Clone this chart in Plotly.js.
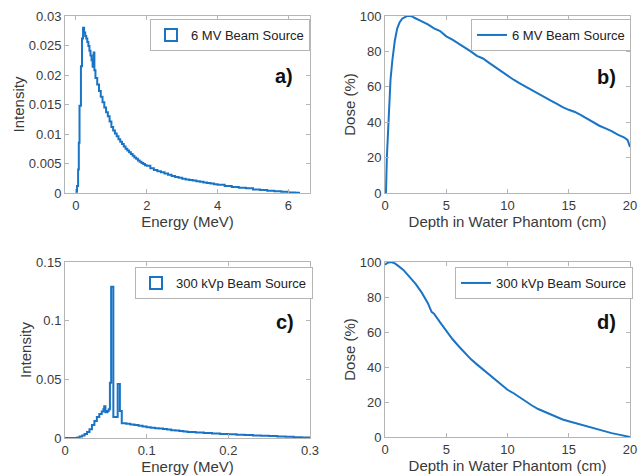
<!DOCTYPE html>
<html>
<head>
<meta charset="utf-8">
<script src="https://cdn.plot.ly/plotly-3.0.1.min.js"></script>
<style>html,body{margin:0;padding:0;background:#fff}#chart{width:640px;height:475px}</style>
</head>
<body>
<div id="chart"></div>
<script>
// Panel a: 6 MV spectrum (bin left edges, intensity)
var mvEnergy = [0,0.03,0.06,0.08,0.10,0.14,0.17,0.20,0.23,0.26,0.29,0.32,0.35,0.38,0.41,0.44,0.47,0.50,0.52,
  0.55,0.60,0.65,0.70,0.75,0.80,0.85,0.90,0.95,1.00,1.05,1.10,1.15,1.20,1.25,1.30,1.35,1.40,1.45,1.50,1.55,1.60,1.65,1.70,1.75,1.80,1.85,1.90,1.95,
  2.0,2.1,2.2,2.3,2.4,2.5,2.6,2.7,2.8,2.9,3.0,3.1,3.2,3.3,3.4,3.5,3.6,3.7,3.8,3.9,4.0,4.2,4.4,4.6,4.8,5.0,5.2,5.4,5.6,5.8,6.0,6.2,6.3];
var mvIntensity = [0.0002,0.0012,0.004,0.0085,0.0148,0.0215,0.0262,0.0280,0.0272,0.0266,0.0262,0.0256,0.0249,0.0241,0.0233,0.0225,0.0214,0.0238,0.0208,
  0.0195,0.0184,0.0173,0.0163,0.0154,0.0145,0.0137,0.0130,0.0121,0.0112,0.0106,0.0101,0.0096,0.0091,0.0087,0.0083,0.0079,0.0075,0.0072,0.0069,0.0066,0.0063,0.0060,0.0058,0.0055,0.0053,0.0051,0.0049,0.0047,
  0.0046,0.0042,0.0039,0.0037,0.0035,0.0033,0.0031,0.0029,0.0027,0.0026,0.0024,0.0023,0.0022,0.0021,0.0020,0.0019,0.0018,0.0017,0.0016,0.0015,0.0014,0.0012,0.0010,0.0009,0.0008,0.0006,0.0005,0.0004,0.0003,0.0002,0.0001,0.00003,0];

// Panel b: 6 MV depth dose
var mvDepth = [0,0.08,0.15,0.25,0.35,0.45,0.6,0.8,1.0,1.2,1.4,1.6,1.8,2.0,2.2,2.4,2.6,2.8,3.0,3.5,4.0,4.5,5.0,5.5,6.0,6.5,7.0,7.5,8.0,8.5,9.0,9.5,10,10.5,11,11.5,12,12.5,13,13.5,14,14.5,15,15.5,16,16.5,17,17.5,18,18.5,19,19.5,19.8,20];
var mvDose = [0,0,20,38,53,64,75,86,93,96.5,98.5,99.5,100,100,99.8,99,98.2,97.6,97,95.3,93,91.5,88.5,86.6,84.5,82.5,80,77.5,76,73.5,71,68.5,66,64,62,60,58,56,54,52.3,50.5,48.5,47,45.8,44,42,40,38,36.5,35,33,31.5,30,26];

// Panel c: 300 kVp spectrum (bin left edges, intensity)
var kvEnergy = [0,0.005,0.01,0.012,0.015,0.018,0.021,0.024,0.027,0.030,0.033,0.036,0.039,0.042,0.045,0.047,0.048,0.0495,0.052,0.0535,
  0.055,0.0565,0.0592,0.0645,0.0672,0.0695,0.075,0.08,0.085,0.09,0.095,0.10,0.105,0.11,0.115,0.12,0.125,0.13,0.135,0.14,0.145,0.15,
  0.16,0.17,0.18,0.19,0.20,0.21,0.22,0.23,0.24,0.25,0.26,0.27,0.28,0.29,0.30];
var kvIntensity = [0,0,0,0,0.0005,0.0012,0.0022,0.0035,0.0052,0.0075,0.011,0.0145,0.0178,0.0205,0.0225,0.0245,0.027,0.022,0.023,0.0245,
  0.047,0.129,0.018,0.046,0.023,0.0125,0.0121,0.0116,0.0110,0.0104,0.0098,0.0092,0.0088,0.0084,0.0080,0.0076,0.0072,0.0067,0.0063,0.0059,0.0055,0.0051,
  0.0046,0.0042,0.0038,0.0034,0.0031,0.0028,0.0025,0.0022,0.0019,0.0016,0.0013,0.0010,0.0007,0.0004,0.0001];

// Panel d: 300 kVp depth dose
var kvDepth = [0,0.2,0.5,0.8,1.0,1.5,2.0,2.5,3.0,3.5,3.8,4.0,4.5,5.0,5.5,6.0,6.5,7.0,7.5,8.0,8.5,9.0,9.5,10,10.5,11,11.5,12,12.5,13,13.5,14,14.5,15,15.5,16,16.5,17,17.5,18,18.5,19,19.5,20];
var kvDose = [98.5,99.5,100,99.2,98.2,95.5,91.5,87.5,82.5,76.5,71.5,70.5,65.5,60.5,56,52,48,44.5,41.5,38.5,35.5,32.5,29.5,27,25,22.5,20.5,18,16,14.5,13,11.5,10,9,8,7,6,4.8,3.8,3,2.2,1.5,0.8,0];

var legendNames = ['6 MV Beam Source','6 MV Beam Source','300 kVp Beam Source','300 kVp Beam Source'];
var panelLabels = ['a)','b)','c)','d)'];

var blue = '#1a74c6';
var traces = [
  {x: mvEnergy, y: mvIntensity, type:'scatter', mode:'lines', line:{color:blue,width:2,shape:'hv'}, showlegend:false, xaxis:'x', yaxis:'y'},
  {x:[null], y:[null], type:'bar', name:legendNames[0], marker:{color:'rgba(0,0,0,0)', line:{color:blue,width:2}}, xaxis:'x', yaxis:'y', legend:'legend'},
  {x: mvDepth, y: mvDose, type:'scatter', mode:'lines', name:legendNames[1], line:{color:blue,width:2}, xaxis:'x2', yaxis:'y2', legend:'legend2'},
  {x: kvEnergy, y: kvIntensity, type:'scatter', mode:'lines', line:{color:blue,width:2,shape:'hv'}, showlegend:false, xaxis:'x3', yaxis:'y3'},
  {x:[null], y:[null], type:'bar', name:legendNames[2], marker:{color:'rgba(0,0,0,0)', line:{color:blue,width:2}}, xaxis:'x3', yaxis:'y3', legend:'legend3'},
  {x: kvDepth, y: kvDose, type:'scatter', mode:'lines', name:legendNames[3], line:{color:blue,width:2}, xaxis:'x4', yaxis:'y4', legend:'legend4'}
];

var W = 640, H = 475;
function dx(a,b){return [a/W, b/W];}
function dy(top,bot){return [1-bot/H, 1-top/H];}
var font = {family:'Liberation Sans, Arial, sans-serif', size:13, color:'#3a3a3a'};
function ax(extra){
  var base = {showline:true, linecolor:'#b5b5b5', linewidth:1, mirror:'ticks', ticks:'inside', ticklen:4, tickcolor:'#b5b5b5',
    showgrid:false, zeroline:false, tickfont:{size:13,color:'#3a3a3a'}, fixedrange:true};
  for (var k in extra) base[k]=extra[k];
  return base;
}
function leg(x,y){
  return {x:x/W, y:1-y/H, xanchor:'left', yanchor:'top', bgcolor:'#fff', bordercolor:'#b5b5b5', borderwidth:1,
    font:{size:13,color:'#222'}, itemwidth:30, tracegroupgap:0};
}
var layout = {
  width:W, height:H, margin:{l:0,r:0,t:0,b:0}, paper_bgcolor:'#fff', plot_bgcolor:'#fff', font:font,
  bargap:0,
  xaxis: ax({domain:dx(65,310), range:[-0.31,6.61], tickvals:[0,2,4,6], anchor:'y', title:{text:'Energy (MeV)', font:{size:15}, standoff:4}}),
  yaxis: ax({domain:dy(16,193), range:[0,0.03], dtick:0.005, anchor:'x', title:{text:'Intensity', font:{size:15}, standoff:0}}),
  xaxis2: ax({domain:dx(385,630), range:[0,20], dtick:5, anchor:'y2', title:{text:'Depth in Water Phantom (cm)', font:{size:15}, standoff:4}}),
  yaxis2: ax({domain:dy(16,193), range:[0,100], dtick:20, anchor:'x2', title:{text:'Dose (%)', font:{size:15}, standoff:0}}),
  xaxis3: ax({domain:dx(65,310), range:[0,0.3], dtick:0.1, anchor:'y3', title:{text:'Energy (MeV)', font:{size:15}, standoff:2}}),
  yaxis3: ax({domain:dy(262,438), range:[0,0.15], dtick:0.05, anchor:'x3', title:{text:'Intensity', font:{size:15}, standoff:0}}),
  xaxis4: ax({domain:dx(385,630), range:[0,20], dtick:5, anchor:'y4', title:{text:'Depth in Water Phantom (cm)', font:{size:15}, standoff:2}}),
  yaxis4: ax({domain:dy(262,437), range:[0,100], dtick:20, anchor:'x4', title:{text:'Dose (%)', font:{size:15}, standoff:0}}),
  legend: leg(150,19), legend2: leg(471,19), legend3: leg(135,267), legend4: leg(455,267),
  annotations: [
    {text:panelLabels[0], x:284/W, y:1-76/H},
    {text:panelLabels[1], x:606/W, y:1-77/H},
    {text:panelLabels[2], x:285/W, y:1-322/H},
    {text:panelLabels[3], x:606/W, y:1-322/H}
  ].map(function(a){a.xref='paper';a.yref='paper';a.showarrow=false;a.xanchor='center';a.yanchor='middle';
    a.font={size:20,color:'#111',family:'Liberation Sans, Arial, sans-serif',weight:'bold'};return a;})
};
Plotly.newPlot('chart', traces, layout, {staticPlot:true, displayModeBar:false});
</script>
</body>
</html>
